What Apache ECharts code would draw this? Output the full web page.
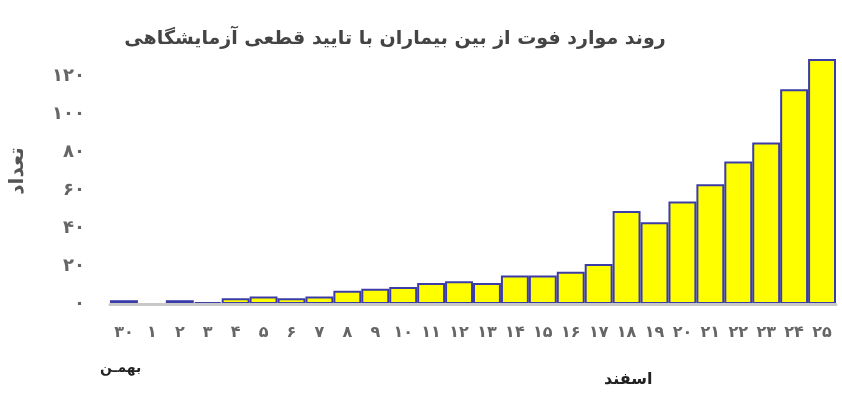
<!DOCTYPE html>
<html>
<head>
<meta charset="utf-8">
<script src="https://cdn.jsdelivr.net/npm/echarts@6/dist/echarts.min.js"></script>
<style>
html,body{margin:0;padding:0;background:#fff;}
#chart{width:842px;height:415px;}
</style>
</head>
<body>
<div id="chart"></div>
<script>
var categories = ['۳۰','۱','۲','۳','۴','۵','۶','۷','۸','۹','۱۰','۱۱','۱۲','۱۳','۱۴','۱۵','۱۶','۱۷','۱۸','۱۹','۲۰','۲۱','۲۲','۲۳','۲۴','۲۵'];
var deaths = [2,0,2,1,3,4,3,4,7,8,9,11,12,11,15,15,17,21,49,43,54,63,75,85,113,129];
var titleText = 'روند موارد فوت از بین بیماران با تایید قطعی آزمایشگاهی';
var yAxisName = 'تعداد';
var monthLabels = ['بهمـن', 'اسفند'];

var fa = '۰۱۲۳۴۵۶۷۸۹';
function toFa(n){ return String(n).replace(/[0-9]/g, function(d){ return fa[+d]; }); }

var FONT = 'DejaVu Sans';
var chart = echarts.init(document.getElementById('chart'));
chart.setOption({
  backgroundColor: '#ffffff',
  animation: false,
  title: {
    text: titleText,
    left: 390, top: 25, textAlign: 'center',
    textStyle: { fontFamily: FONT, fontSize: 19, fontWeight: 'bold', color: '#444' }
  },
  grid: { left: 103, right: 6, top: 38, bottom: 111 },
  xAxis: {
    type: 'category',
    data: categories,
    z: 5,
    axisLine: { show: true, lineStyle: { color: '#c8c8c8', width: 3 } },
    axisTick: { show: false },
    axisLabel: { margin: 21, fontFamily: FONT, fontSize: 16, fontWeight: 'bold', color: '#666', interval: 0 }
  },
  yAxis: {
    type: 'value',
    min: 0, max: 140, interval: 20,
    name: yAxisName,
    nameLocation: 'middle',
    nameGap: 82,
    nameRotate: 90,
    nameTextStyle: { fontFamily: FONT, fontSize: 20, fontWeight: 'bold', color: '#555' },
    axisLine: { show: false },
    axisTick: { show: false },
    splitLine: { show: false },
    axisLabel: {
      showMaxLabel: false, margin: 25,
      fontFamily: FONT, fontSize: 18, fontWeight: 'bold', color: '#666',
      formatter: function(v){ return v === 140 ? '' : toFa(v); }
    }
  },
  series: [{
    type: 'bar',
    data: deaths,
    barCategoryGap: '0%',
    itemStyle: { color: '#ffff00', borderColor: '#3c3ca8', borderWidth: 2 }
  }],
  graphic: [
    { type: 'text', left: 100, top: 361, style: { text: monthLabels[0], fontFamily: FONT, fontSize: 14, fontWeight: 'bold', fill: '#222' } },
    { type: 'text', left: 604, top: 372, style: { text: monthLabels[1], fontFamily: FONT, fontSize: 16, fontWeight: 'bold', fill: '#222' } }
  ]
});
</script>
</body>
</html>
